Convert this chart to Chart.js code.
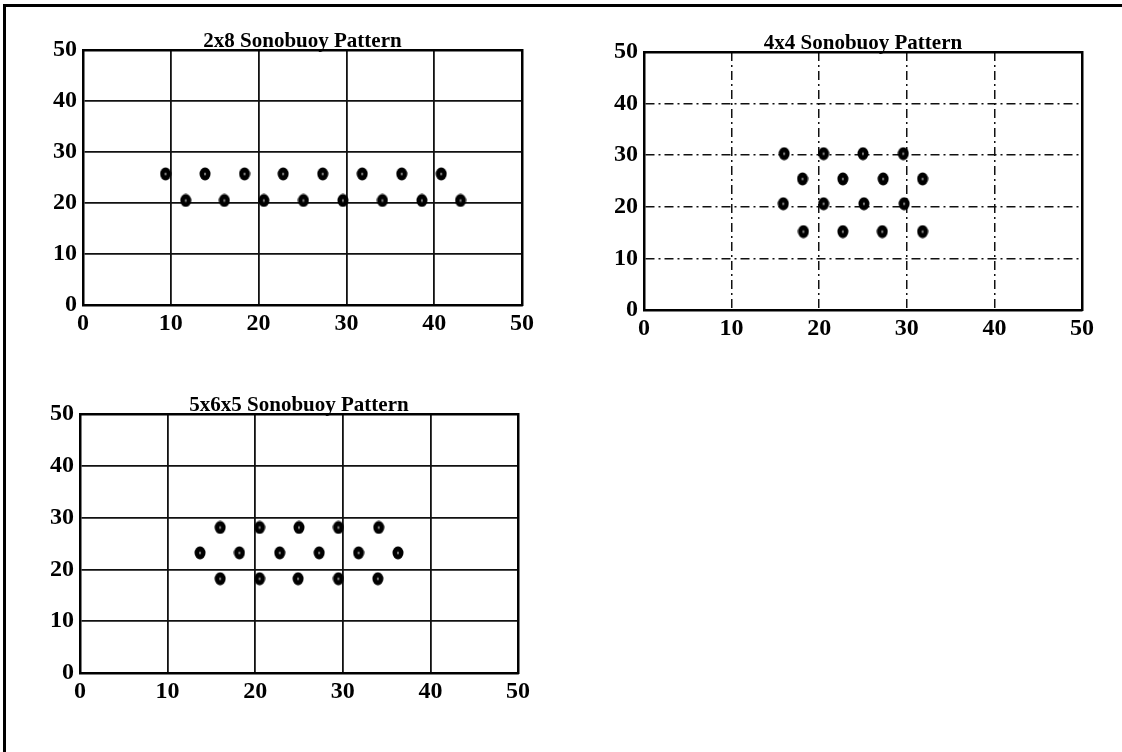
<!DOCTYPE html>
<html>
<head>
<meta charset="utf-8">
<script src="https://cdn.jsdelivr.net/npm/chart.js@4.4.1/dist/chart.umd.min.js"></script>
<style>
  html, body { margin: 0; padding: 0; background: #fff; }
  body { width: 1122px; height: 752px; overflow: hidden; position: relative; }
  #frame { position: absolute; left: 3px; top: 4px; width: 1200px; height: 800px;
           border-top: 3px solid #000; border-left: 3px solid #000; }
  .wrap { position: absolute; }
  canvas { display: block; }
</style>
</head>
<body>
<div id="frame"></div>
<div class="wrap" style="left:10px;top:0px;"><canvas id="c1" width="550" height="345"></canvas></div>
<div class="wrap" style="left:570px;top:0px;"><canvas id="c2" width="552" height="350"></canvas></div>
<div class="wrap" style="left:10px;top:360px;"><canvas id="c3" width="540" height="355"></canvas></div>
<script>
// ---- data ----
const axisMin = 0;
const axisMax = 50;
const axisStep = 10;

const title2x8 = '2x8 Sonobuoy Pattern';
const x2x8 = [9.4, 13.9, 18.4, 22.8, 27.3, 31.8, 36.3, 40.8,
              11.7, 16.1, 20.6, 25.1, 29.6, 34.1, 38.6, 43.0];
const y2x8 = [25.7, 25.7, 25.7, 25.7, 25.7, 25.7, 25.7, 25.7,
              20.5, 20.5, 20.5, 20.5, 20.5, 20.5, 20.5, 20.5];

const title4x4 = '4x4 Sonobuoy Pattern';
const x4x4 = [16.0, 20.5, 25.0, 29.6,
              18.1, 22.7, 27.3, 31.8,
              15.9, 20.5, 25.1, 29.7,
              18.2, 22.7, 27.2, 31.8];
const y4x4 = [30.3, 30.3, 30.3, 30.3,
              25.4, 25.4, 25.4, 25.4,
              20.6, 20.6, 20.6, 20.6,
              15.2, 15.2, 15.2, 15.2];

const title5x6x5 = '5x6x5 Sonobuoy Pattern';
const x5x6x5 = [16.0, 20.5, 25.0, 29.5, 34.1,
                13.7, 18.2, 22.8, 27.3, 31.8, 36.3,
                16.0, 20.5, 24.9, 29.5, 34.0];
const y5x6x5 = [28.1, 28.1, 28.1, 28.1, 28.1,
                23.2, 23.2, 23.2, 23.2, 23.2, 23.2,
                18.2, 18.2, 18.2, 18.2, 18.2];

// ---- marker: bold "o" like blob ----
function makeMarker() {
  const c = document.createElement('canvas');
  c.width = 12; c.height = 14;
  const g = c.getContext('2d');
  g.fillStyle = '#000';
  g.beginPath(); g.ellipse(6, 7, 5.5, 6.5, 0, 0, Math.PI * 2); g.fill();
  g.fillStyle = 'rgba(255,255,255,0.6)';
  g.beginPath(); g.ellipse(6, 7, 0.9, 1.6, 0, 0, Math.PI * 2); g.fill();
  return c;
}
const marker = makeMarker();

const tickFont = { family: '"Liberation Serif", "Times New Roman", serif', size: 24, weight: 'bold' };
const titleFont = { family: '"Liberation Serif", "Times New Roman", serif', size: 21, weight: 'bold' };

function makeChart(id, title, xs, ys, geom, dashed) {
  const pts = xs.map((x, i) => ({ x: x, y: ys[i] }));
  const gridDash = dashed ? [9, 4, 2, 4] : [];
  new Chart(document.getElementById(id), {
    type: 'scatter',
    data: { datasets: [{ data: pts, pointStyle: marker, pointRadius: 7, showLine: false }] },
    options: {
      responsive: false,
      animation: false,
      events: [],
      layout: { padding: { top: geom.padTop, right: geom.padRight, bottom: 0, left: 0 } },
      plugins: {
        legend: { display: false },
        tooltip: { enabled: false },
        title: {
          display: true, text: title, color: '#000', font: Object.assign({ lineHeight: 0.8 }, titleFont),
          padding: 0, fullSize: false
        }
      },
      scales: {
        x: {
          type: 'linear', position: 'bottom', min: axisMin, max: axisMax,
          ticks: { stepSize: axisStep, color: '#000', font: tickFont, padding: 4, maxRotation: 0 },
          grid: { color: '#111', lineWidth: dashed ? 1.5 : 1.8, drawTicks: false },
          border: { display: true, color: '#000', width: 2.5, dash: gridDash },
          afterFit: s => { s.height = geom.xAxisH; }
        },
        y: {
          type: 'linear', position: 'left', min: axisMin, max: axisMax,
          ticks: { stepSize: axisStep, color: '#000', font: tickFont, padding: 6 },
          grid: { color: '#111', lineWidth: dashed ? 1.5 : 1.8, drawTicks: false },
          border: { display: true, color: '#000', width: 2.5, dash: gridDash },
          afterFit: s => { s.width = geom.yAxisW; }
        },
        xTop: {
          type: 'linear', position: 'top', min: axisMin, max: axisMax,
          ticks: { display: false }, grid: { display: false, drawTicks: false },
          border: { display: true, color: '#000', width: 2.5 },
          afterFit: s => { s.height = 0; }
        },
        yRight: {
          type: 'linear', position: 'right', min: axisMin, max: axisMax,
          ticks: { display: false }, grid: { display: false, drawTicks: false },
          border: { display: true, color: '#000', width: 2.5 },
          afterFit: s => { s.width = 0; }
        }
      }
    }
  });
}

makeChart('c1', title2x8, x2x8, y2x8, { padTop: 33.2, padRight: 38, xAxisH: 40, yAxisW: 73 }, false);
makeChart('c2', title4x4, x4x4, y4x4, { padTop: 35.2, padRight: 40, xAxisH: 40, yAxisW: 74 }, true);
makeChart('c3', title5x6x5, x5x6x5, y5x6x5, { padTop: 37.2, padRight: 32, xAxisH: 42, yAxisW: 70 }, false);
</script>
</body>
</html>
